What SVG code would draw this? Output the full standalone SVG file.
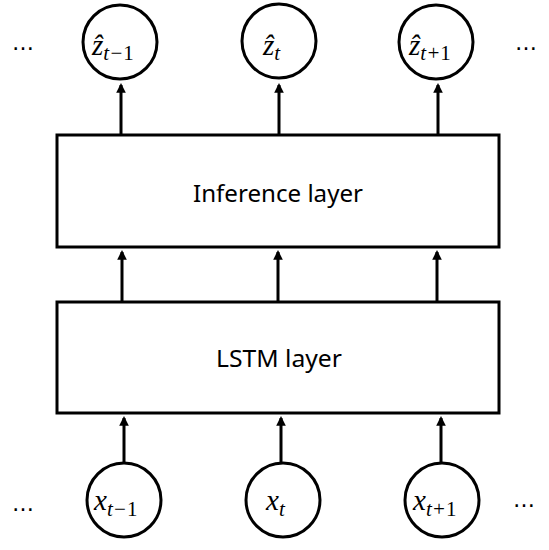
<svg xmlns="http://www.w3.org/2000/svg" width="549" height="550" viewBox="0 0 549 550">
<defs>
<style>
.node{fill:#fff;stroke:#000;stroke-width:3}
.box{fill:#fff;stroke:#000;stroke-width:3}
.conn{stroke:#000;stroke-width:3;fill:none}
.lbl{font-family:"Noto Sans","Open Sans",sans-serif;font-size:24px;fill:#000}
.math{font-family:"Liberation Serif","DejaVu Serif",serif;font-style:italic;font-size:29px;fill:#000}
.sub{font-size:21px}
.up{font-style:normal}
.dots{font-family:"DejaVu Sans",sans-serif;font-size:22px;fill:#000}
</style>
<marker id="ah" viewBox="0 0 10 10" refX="8" refY="5" markerWidth="3.2" markerHeight="3.2" orient="auto" markerUnits="strokeWidth">
<path d="M0,0 L10,5 L0,10 z" fill="#000"/>
</marker>
</defs>
<rect width="549" height="550" fill="#fff"/>
<g id="connectors">
<line class="conn" x1="121" y1="134" x2="121" y2="85" marker-end="url(#ah)"/>
<line class="conn" x1="279" y1="134" x2="279" y2="85" marker-end="url(#ah)"/>
<line class="conn" x1="438" y1="134" x2="438" y2="85" marker-end="url(#ah)"/>
<line class="conn" x1="122" y1="301" x2="122" y2="252" marker-end="url(#ah)"/>
<line class="conn" x1="278" y1="301" x2="278" y2="252" marker-end="url(#ah)"/>
<line class="conn" x1="437" y1="301" x2="437" y2="252" marker-end="url(#ah)"/>
<line class="conn" x1="124" y1="463" x2="124" y2="418" marker-end="url(#ah)"/>
<line class="conn" x1="281" y1="463" x2="281" y2="418" marker-end="url(#ah)"/>
<line class="conn" x1="441" y1="463" x2="441" y2="418" marker-end="url(#ah)"/>
</g>
<g id="inference">
<rect class="box" x="57" y="135" width="442" height="112"/>
<text class="lbl" x="193" y="202" textLength="170" lengthAdjust="spacingAndGlyphs">Inference layer</text>
</g>
<g id="lstm">
<rect class="box" x="57" y="302" width="442" height="111"/>
<text class="lbl" x="216" y="367" textLength="126" lengthAdjust="spacingAndGlyphs">LSTM layer</text>
</g>
<g id="z1">
<circle class="node" cx="120" cy="42" r="37"/>
<text class="math" x="92" y="55">ẑ<tspan class="sub" dy="5">t−<tspan class="up">1</tspan></tspan></text>
</g>
<g id="z2">
<circle class="node" cx="279" cy="41" r="37"/>
<text class="math" x="263" y="55">ẑ<tspan class="sub" dy="5">t</tspan></text>
</g>
<g id="z3">
<circle class="node" cx="436" cy="42" r="37"/>
<text class="math" x="409" y="55">ẑ<tspan class="sub" dy="5">t+<tspan class="up">1</tspan></tspan></text>
</g>
<g id="x1">
<circle class="node" cx="124" cy="500" r="37"/>
<text class="math" x="94" y="510">x<tspan class="sub" dy="6">t−<tspan class="up">1</tspan></tspan></text>
</g>
<g id="x2">
<circle class="node" cx="283" cy="500" r="37"/>
<text class="math" x="266" y="510">x<tspan class="sub" dy="6">t</tspan></text>
</g>
<g id="x3">
<circle class="node" cx="442" cy="500" r="37"/>
<text class="math" x="413" y="510">x<tspan class="sub" dy="6">t+<tspan class="up">1</tspan></tspan></text>
</g>
<g id="dots">
<text class="dots" x="23" y="50" text-anchor="middle">…</text>
<text class="dots" x="526" y="50" text-anchor="middle">…</text>
<text class="dots" x="23" y="511" text-anchor="middle">…</text>
<text class="dots" x="524" y="507" text-anchor="middle">…</text>
</g>
</svg>
